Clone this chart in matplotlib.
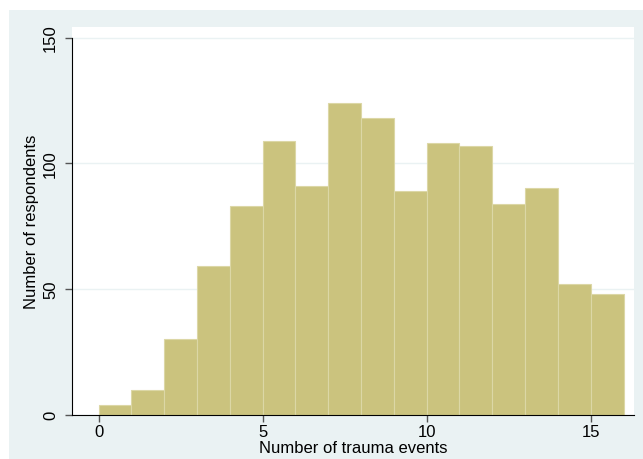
import matplotlib.pyplot as plt
from matplotlib.patches import Rectangle

# counts per bin (bin width 1, starting at 0)
bin_starts = list(range(16))
counts = [4, 10, 30, 59, 83, 109, 91, 124, 118, 89, 108, 107, 84, 90, 52, 48]
x_ticks = [0, 5, 10, 15]
y_ticks = [0, 50, 100, 150]

plt.rcParams['font.family'] = ['Liberation Sans', 'DejaVu Sans']

fig = plt.figure(figsize=(6.43, 4.6), dpi=100)
# light blue-grey graph region behind the plot
bg = Rectangle((9 / 643, 0), 1, (460 - 11) / 460, transform=fig.transFigure,
               facecolor='#eaf2f3', edgecolor='none', zorder=-10)
fig.add_artist(bg)

ax = fig.add_axes([72 / 643, 1 - 415.7 / 460, (634 - 72) / 643, (415.7 - 28) / 460])
ax.set_facecolor('white')

ax.bar(bin_starts, counts, width=1, align='edge', color='#cbc37e',
       edgecolor='#dcd7a6', linewidth=0.8, zorder=2)

ax.set_xlim(-0.81, 16.32)
ax.set_ylim(0, 154.2)
ax.set_xticks(x_ticks)
ax.set_yticks(y_ticks)
ax.set_yticklabels([str(v) for v in y_ticks], rotation=90, va='center')
ax.grid(axis='y', color='#eaf2f3', linewidth=1, zorder=1)
ax.set_axisbelow(True)

for s in ['top', 'right']:
    ax.spines[s].set_visible(False)
ax.spines['left'].set_color('black')
ax.spines['bottom'].set_color('black')
ax.spines['left'].set_bounds(0, 150)

ax.tick_params(axis='x', length=5, width=1, color='#555555', labelsize=12, pad=2)
ax.tick_params(axis='y', length=5, width=1, color='#555555', labelsize=12, pad=5)

ax.set_xlabel('Number of trauma events', fontsize=12, labelpad=0.5)
ax.set_ylabel('Number of respondents', fontsize=12, labelpad=3)

fig.savefig('out.png', dpi=100)
